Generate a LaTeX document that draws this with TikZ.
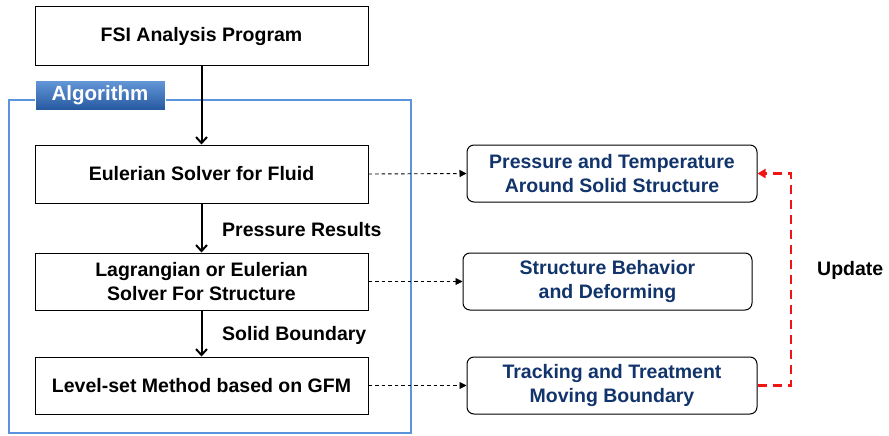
\documentclass[tikz,border=0pt]{standalone}
\usepackage{fontspec}
\setmainfont{Liberation Sans}
\usetikzlibrary{arrows.meta,shadings}
\definecolor{frameblue}{RGB}{91,148,220}
\definecolor{tabtop}{RGB}{98,150,215}
\definecolor{tabbot}{RGB}{38,88,160}
\definecolor{navy}{RGB}{18,52,108}
\definecolor{upred}{RGB}{240,20,20}
\tikzset{
  x=1pt, y=-1pt,
  txt/.style={font=\bfseries\fontsize{19.5}{24}\selectfont},
  stepbox/.style={draw=black, line width=1pt, fill=white, inner sep=0pt,
    align=center, txt},
  resbox/.style={draw=black, line width=1pt, rounded corners=7pt, fill=white,
    inner sep=0pt, align=center, text=navy, txt},
  flow/.style={draw=black, line width=2pt, -{Straight Barb[length=6pt,width=11pt,line width=2pt]}},
  link/.style={draw=black, line width=0.9pt, dash pattern=on 3.5pt off 3pt,
    -{Triangle[length=7pt,width=7pt]}},
  lbl/.style={txt, anchor=west, inner sep=0pt},
}
\begin{document}
\begin{tikzpicture}
\useasboundingbox (0,0) rectangle (889,436);

% algorithm frame
\draw[frameblue, line width=2pt] (9,100) rectangle (411,433);
\node[minimum width=130pt, minimum height=29pt, inner sep=0pt,
  top color=tabtop, bottom color=tabbot, draw=white, line width=1pt,
  text=white, font=\bfseries\fontsize{20.5}{24}\selectfont] (tab) at (100,95.5) {Algorithm};

% program steps
\node[stepbox, minimum width=333pt, minimum height=59pt] (fsi) at (201.5,36.5) {FSI Analysis Program};
\node[stepbox, minimum width=333pt, minimum height=58pt] (euler) at (201.5,174) {Eulerian Solver for Fluid};
\node[stepbox, minimum width=333pt, minimum height=57pt] (lagr) at (201.5,281.5) {Lagrangian or Eulerian\\Solver For Structure};
\node[stepbox, minimum width=333pt, minimum height=57pt] (level) at (201.5,385.5) {Level-set Method based on GFM};

% results
\node[resbox, minimum width=290pt, minimum height=57pt] (press) at (612,173.5) {Pressure and Temperature\\Around Solid Structure};
\node[resbox, minimum width=289pt, minimum height=57pt] (struct) at (607.5,281.5) {Structure Behavior\\and Deforming};
\node[resbox, minimum width=290pt, minimum height=57pt] (track) at (612,385.5) {Tracking and Treatment\\Moving Boundary};

% main flow
\draw[flow] (fsi.south) -- (euler.north);
\draw[flow] (euler.south) -- (lagr.north);
\draw[flow] (lagr.south) -- (level.north);
\node[lbl] (pres) at (222,230) {Pressure Results};
\node[lbl] (solid) at (222,335) {Solid Boundary};

% outputs
\draw[link] (euler.east) -- (press.west);
\draw[link] (lagr.east) -- (struct.west);
\draw[link] (level.east) -- (track.west);

% update loop
\coordinate (ur) at (791,385.5);
\coordinate (tr) at (791,173.5);
\draw[upred, line width=2.2pt, dash pattern=on 9pt off 6pt,
  -{Triangle[length=8pt,width=9pt]}] (track.east) -- (ur) -- (tr) -- (press.east);
\node[lbl] (upd) at (817,270) {Update};
\end{tikzpicture}
\end{document}
